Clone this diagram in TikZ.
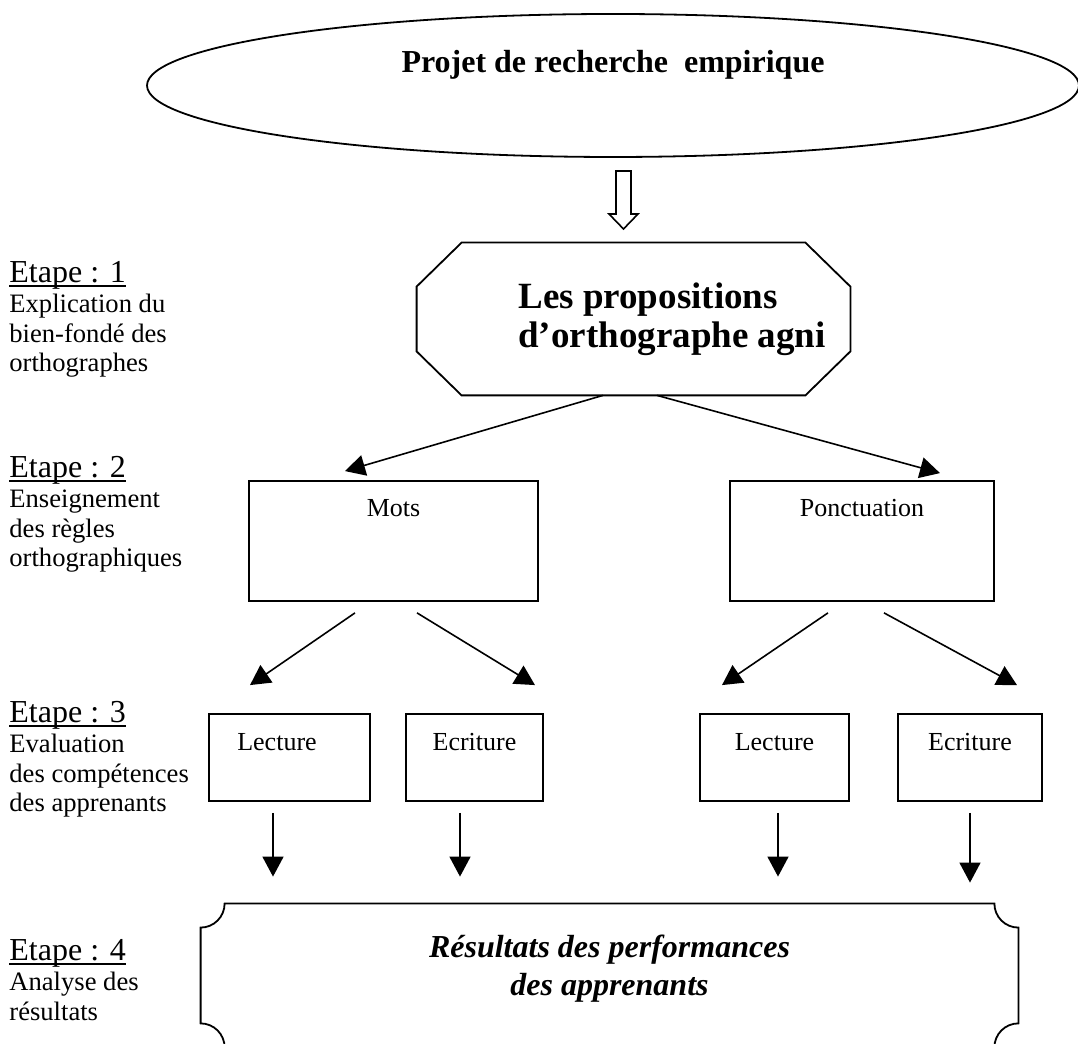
\documentclass[tikz,border=0pt]{standalone}
\usepackage{fontspec}
\setmainfont{Liberation Serif}
\usetikzlibrary{positioning,arrows.meta,shapes.geometric}

\begin{document}
\begin{tikzpicture}[
    x=0.5pt, y=0.5pt,
    >={Triangle[width=10.5pt,length=10pt]},
    every node/.style={inner sep=0pt},
    trait/.style={line width=0.9pt},
    fleche/.style={->, line width=0.8pt},
    souligne/.style={line width=0.7pt},
    etape/.style={anchor=base west, font=\fontsize{16}{19}\selectfont},
    etapetxt/.style={anchor=base west, align=left, font=\fontsize{13.3}{14.7}\selectfont},
    grandbox/.style={draw, trait, text height=18pt, text depth=42pt, minimum height=60pt, font=\fontsize{13}{15}\selectfont},
    petitbox/.style={draw, trait, text height=18.5pt, text depth=25pt, minimum height=43.5pt, font=\fontsize{13}{15}\selectfont},
]
\useasboundingbox (0,0) rectangle (1078,1044);
\clip (0,0) rectangle (1078,1044);

% ---- Top: project ----
\node[draw, trait, ellipse, minimum width=466pt, minimum height=71.5pt,
      text height=11pt, text depth=23.5pt, font=\fontsize{16}{19}\selectfont\bfseries]
      (projet) at (613,958.5) {Projet de recherche\ \ empirique};

% hollow arrow down to the proposals
\coordinate (creux) at (623.5,873);
\draw[line width=0.8pt] (creux) ++(-7.5,0) -- ++(0,-43) -- ++(-7,0) -- ++(14.5,-15)
    -- ++(14.5,15) -- ++(-7,0) -- ++(0,43) -- cycle;

% ---- Step 1: octagon ----
\node[minimum width=216.5pt, minimum height=76pt] (propositions) at (633.5,725) {};
\draw[trait] ([xshift=22.5pt]propositions.north west) -- ([xshift=-22.5pt]propositions.north east)
    -- ([yshift=-22pt]propositions.north east) -- ([yshift=22pt]propositions.south east)
    -- ([xshift=-22.5pt]propositions.south east) -- ([xshift=22.5pt]propositions.south west)
    -- ([yshift=22pt]propositions.south west) -- ([yshift=-22pt]propositions.north west) -- cycle;
% base of a two-line node is its last line
\node[anchor=base west, align=left, font=\fontsize{18.5}{19.5}\selectfont\bfseries]
    (propositionstxt) at (518,696) {Les propositions\\d’orthographe agni};

% ---- Step 2 ----
\node[grandbox, minimum width=144.5pt] (mots) at (393.5,503) {Mots};
\node[grandbox, minimum width=132pt] (ponctuation) at (862,503) {Ponctuation};

\draw[fleche] ([shift={(-30.5,0)}]propositions.south) -- ([shift={(-48.5,9)}]mots.north);
\draw[fleche] ([shift={(23.5,0)}]propositions.south) -- ([shift={(78,7)}]ponctuation.north);

% ---- Step 3 ----
\node[petitbox, minimum width=80.5pt] (lecA) at (289.5,286.5) {Lecture\hspace*{12.5pt}};
\node[petitbox, minimum width=68.5pt] (ecrA) at (474.5,286.5) {Ecriture};
\node[petitbox, minimum width=74.5pt] (lecB) at (774.5,286.5) {Lecture};
\node[petitbox, minimum width=72pt] (ecrB) at (970,286.5) {Ecriture};

\draw[fleche] ([shift={(-38.5,-11)}]mots.south) -- ([shift={(-39.5,28)}]lecA.north);
\draw[fleche] ([shift={(23.5,-11)}]mots.south) -- ([shift={(60.5,28)}]ecrA.north);
\draw[fleche] ([shift={(-34,-11)}]ponctuation.south) -- ([shift={(-52.5,28)}]lecB.north);
\draw[fleche] ([shift={(22,-11)}]ponctuation.south) -- ([shift={(47,28)}]ecrB.north);

% ---- Step 4: results plaque ----
\node[minimum width=408.5pt, minimum height=71.5pt] (resultats) at (609.5,68.5) {};
\draw[trait] ([xshift=12pt]resultats.north west) -- ([xshift=-12pt]resultats.north east)
    arc[start angle=180, end angle=270, radius=12pt] -- ([yshift=12pt]resultats.south east)
    arc[start angle=90, end angle=180, radius=12pt] -- ([xshift=12pt]resultats.south west)
    arc[start angle=0, end angle=90, radius=12pt] -- ([yshift=-12pt]resultats.north west)
    arc[start angle=270, end angle=360, radius=12pt] -- cycle;
\node[anchor=base, align=center, font=\fontsize{16}{19}\selectfont\bfseries\itshape]
    (resultatstxt) at (609.5,48) {Résultats des performances\\des apprenants};

\coordinate (dA) at ([shift={(-16.5,-11)}]lecA.south);
\coordinate (dB) at ([shift={(-14.5,-11)}]ecrA.south);
\coordinate (dC) at ([shift={(3.5,-11)}]lecB.south);
\coordinate (dD) at ([shift={(0,-11)}]ecrB.south);
\draw[fleche, shorten >=13.5pt] (dA) -- (dA |- resultats.north);
\draw[fleche, shorten >=13.5pt] (dB) -- (dB |- resultats.north);
\draw[fleche, shorten >=13.5pt] (dC) -- (dC |- resultats.north);
\draw[fleche, shorten >=10.5pt] (dD) -- (dD |- resultats.north);

% ---- Left column: steps ----
\node[etape] (etape1) at (9,761) {Etape : 1};
\node[etapetxt] (etape1txt) at ([yshift=-44.4pt]etape1.base west) {Explication du\\bien-fondé des\\orthographes};
\node[etape] (etape2) at (9,566) {Etape : 2};
\node[etapetxt] (etape2txt) at ([yshift=-44.4pt]etape2.base west) {Enseignement\\des règles\\orthographiques};
\node[etape] (etape3) at (9,321) {Etape : 3};
\node[etapetxt] (etape3txt) at ([yshift=-44.4pt]etape3.base west) {Evaluation\\des compétences\\des apprenants};
\node[etape] (etape4) at (9,83) {Etape : 4};
\node[etapetxt] (etape4txt) at ([yshift=-29.7pt]etape4.base west) {Analyse des\\résultats};

\foreach \e in {etape1,etape2,etape3,etape4}
    \draw[souligne] ([yshift=-1.6pt]\e.base west) -- ([yshift=-1.6pt]\e.base east);

\end{tikzpicture}
\end{document}
